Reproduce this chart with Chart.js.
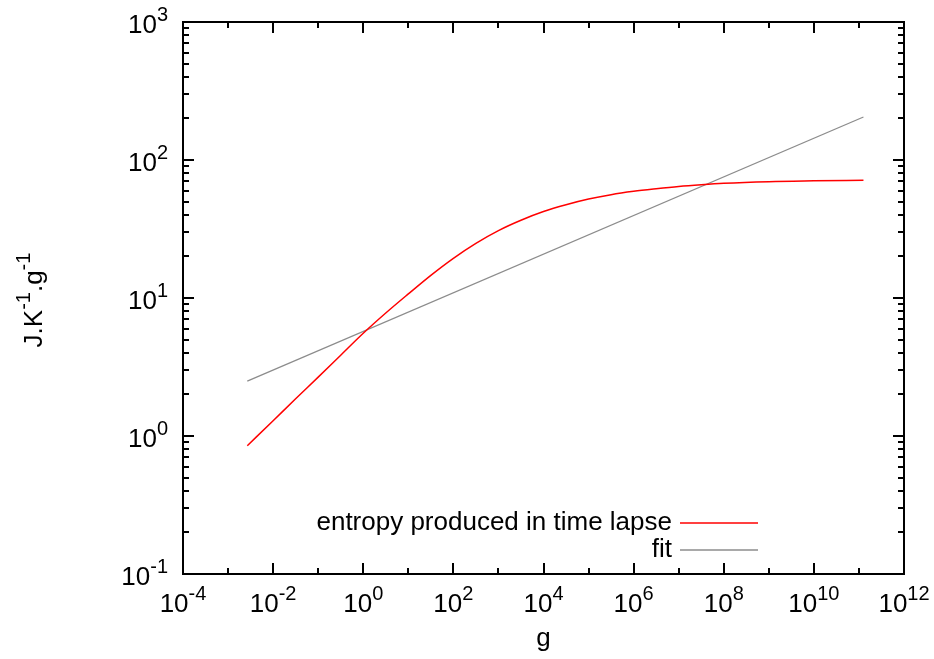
<!DOCTYPE html>
<html><head><meta charset="utf-8">
<script src="https://cdn.jsdelivr.net/npm/chart.js@4.4.1/dist/chart.umd.min.js"></script>
<style>html,body{margin:0;padding:0;background:#fff;}#wrap{width:934px;height:659px;}</style>
</head><body><div id="wrap"><canvas id="c" width="934" height="659"></canvas></div>
<script>
// ---- data ----
const xTickValues = [1e-4, 1e-2, 1, 1e2, 1e4, 1e6, 1e8, 1e10, 1e12];
const yTickValues = [1e-1, 1, 10, 100, 1000];
const entropyX = [2.67e-3, 1e-2, 3.16e-2, 0.1, 0.316, 1, 3.16, 10, 31.6, 100, 316, 1e3, 3.16e3, 1e4, 3.16e4, 1e5, 3.16e5, 1e6, 3.16e6, 1e7, 3.16e7, 1e8, 1e9, 1e10, 1.26e11];
const entropyY = [0.851, 1.29, 1.86, 2.67, 3.85, 5.55, 7.78, 10.7, 14.6, 19.4, 24.9, 30.8, 36.6, 42.3, 47.4, 52.1, 56.1, 59.3, 61.9, 64.3, 66.2, 67.8, 69.7, 70.6, 71.3];
const fitX = [2.67e-3, 1.26e11];
const fitY = [2.50, 205];
const seriesLabels = ['entropy produced in time lapse', 'fit'];
const xTitle = 'g';
const yTitleParts = [['J.K', false], ['-1', true], ['.g', false], ['-1', true]];

const FAMILY = '"Liberation Sans", Arial, "DejaVu Sans", sans-serif';
const FS = 26;
const EXP_FS = 20;
const EXP_RAISE = 12;

function drawParts(ctx, parts, x, y, align){
  let w = 0;
  const widths = parts.map(([t, sup]) => {
    ctx.font = (sup ? EXP_FS : FS) + 'px ' + FAMILY;
    const m = ctx.measureText(t).width; w += m; return m;
  });
  let x0 = align === 'center' ? x - w / 2 : (align === 'right' ? x - w : x);
  ctx.textAlign = 'left';
  ctx.textBaseline = 'alphabetic';
  parts.forEach(([t, sup], i) => {
    ctx.font = (sup ? EXP_FS : FS) + 'px ' + FAMILY;
    ctx.fillText(t, x0, sup ? y - EXP_RAISE : y);
    x0 += widths[i];
  });
}
function powParts(v){
  return [['10', false], [String(Math.round(Math.log10(v))), true]];
}

const framePlugin = {
  id: 'frame',
  afterDatasetsDraw(chart){
    const {ctx, chartArea:a, scales:{x, y}} = chart;
    ctx.save();
    ctx.strokeStyle = '#000';
    ctx.lineWidth = 2;
    ctx.beginPath();
    const tick = (px, len, vertical) => {
      if (vertical){
        ctx.moveTo(px, a.bottom); ctx.lineTo(px, a.bottom - len);
        ctx.moveTo(px, a.top); ctx.lineTo(px, a.top + len);
      } else {
        ctx.moveTo(a.left, px); ctx.lineTo(a.left + len, px);
        ctx.moveTo(a.right, px); ctx.lineTo(a.right - len, px);
      }
    };
    for (let e = -4; e <= 12; e++){
      const px = Math.round(x.getPixelForValue(Math.pow(10, e)));
      tick(px, (e % 2 === 0) ? 11 : 6, true);
    }
    for (let e = -1; e <= 3; e++){
      tick(Math.round(y.getPixelForValue(Math.pow(10, e))), 11, false);
      if (e < 3){
        for (let k = 2; k <= 9; k++){
          tick(Math.round(y.getPixelForValue(k * Math.pow(10, e))), 6, false);
        }
      }
    }
    ctx.stroke();
    ctx.strokeRect(a.left, a.top, a.right - a.left, a.bottom - a.top);

    // tick labels
    ctx.fillStyle = '#000';
    xTickValues.forEach(v => drawParts(ctx, powParts(v), x.getPixelForValue(v), a.bottom + 38, 'center'));
    yTickValues.forEach(v => drawParts(ctx, powParts(v), a.left - 15, y.getPixelForValue(v) + 11, 'right'));

    // y axis title (rotated)
    ctx.translate(42, (a.top + a.bottom) / 2 + 2);
    ctx.rotate(-Math.PI / 2);
    drawParts(ctx, yTitleParts, 0, 0, 'center');
    ctx.restore();
  }
};

const legendPlugin = {
  id: 'innerLegend',
  afterDraw(chart){
    const {ctx, chartArea:a} = chart;
    ctx.save();
    ctx.font = FS + 'px ' + FAMILY;
    ctx.textAlign = 'right';
    ctx.textBaseline = 'middle';
    chart.data.datasets.forEach((ds, i) => {
      const yy = a.bottom - 51 + i * 27;
      ctx.fillStyle = '#000';
      ctx.fillText(ds.label, a.right - 232, yy);
      ctx.strokeStyle = ds.borderColor;
      ctx.lineWidth = ds.borderWidth;
      ctx.beginPath();
      ctx.moveTo(a.right - 224, yy);
      ctx.lineTo(a.right - 146, yy);
      ctx.stroke();
    });
    ctx.restore();
  }
};

new Chart(document.getElementById('c'), {
  type: 'line',
  data: {
    datasets: [
      { label: seriesLabels[0], data: entropyX.map((v, i) => ({x: v, y: entropyY[i]})),
        borderColor: '#ff0000', borderWidth: 1.5, pointRadius: 0, cubicInterpolationMode: 'monotone', fill: false },
      { label: seriesLabels[1], data: fitX.map((v, i) => ({x: v, y: fitY[i]})),
        borderColor: '#8c8c8c', borderWidth: 1.3, pointRadius: 0, fill: false }
    ]
  },
  options: {
    responsive: false,
    animation: false,
    layout: { padding: { top: 22, right: 30, left: 0, bottom: 0 } },
    plugins: { legend: { display: false }, tooltip: { enabled: false } },
    scales: {
      x: {
        type: 'logarithmic', min: 1e-4, max: 1e12,
        afterFit: s => { s.height = 659 - 574; s.paddingLeft = 0; s.paddingRight = 0; },
        ticks: { display: false },
        grid: { display: false, drawTicks: false },
        border: { display: false },
        title: { display: true, text: xTitle, color: '#000', font: { family: FAMILY, size: FS }, padding: { top: 0, bottom: 5 } }
      },
      y: {
        type: 'logarithmic', min: 0.1, max: 1000,
        afterFit: s => { s.width = 183; s.paddingTop = 0; s.paddingBottom = 0; },
        ticks: { display: false },
        grid: { display: false, drawTicks: false },
        border: { display: false }
      }
    }
  },
  plugins: [framePlugin, legendPlugin]
});
</script>
</body></html>
